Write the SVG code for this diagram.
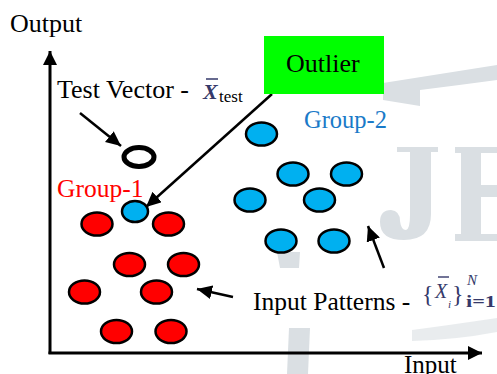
<svg xmlns="http://www.w3.org/2000/svg" width="497" height="374" viewBox="0 0 497 374">
<style>
.t{font-family:"Liberation Serif","Times New Roman",serif;fill:#000}
.red{fill:#ff0000;stroke:#000;stroke-width:2.5}
.blue{fill:#00b0f0;stroke:#000;stroke-width:2.5}
.wm{fill:#dadfe3;stroke:none}
.con{stroke:#000;stroke-width:2.5;fill:none;marker-end:url(#ah)}
.axis{stroke:#000;stroke-width:3;fill:none;marker-end:url(#ah2)}
.math{font-family:"Liberation Serif","Times New Roman",serif;fill:#35396a}
</style>
<defs>
<marker id="ah" markerUnits="userSpaceOnUse" markerWidth="16" markerHeight="14" refX="15" refY="7" orient="auto">
<path d="M0,0 L15,7 L0,14 Z" fill="#000"/>
</marker>
<marker id="ah2" markerUnits="userSpaceOnUse" markerWidth="15" markerHeight="15" refX="14" refY="7" orient="auto">
<path d="M0,0 L14,7 L0,14 Z" fill="#000"/>
</marker>
</defs>
<rect width="497" height="374" fill="#fff"/>
<g id="watermark">
<path class="wm" d="M383,83 Q440,74 497,65 L497,80 Q460,85 420,90 L420,106 L383,100 Z"/>
<path class="wm" d="M397,147 H438 V152 H431 V214 Q431,240 404,240 Q380,240 380,222 Q380,210 391,210 Q400,211 400,221 Q401,230 406,230 Q410,229 410,215 V152 H397 Z"/>
<path class="wm" d="M455,147 H497 V153 H481 V185 H497 V197 H481 V234 H497 V241 H455 V234 H461 V153 H455 Z"/>
<path class="wm" d="M277,252 H300 L299,268 H280 Z"/>
<path class="wm" d="M289,328 H310 L308,374 H287 Z"/>
<path class="wm" d="M412,330 Q450,325 497,318 L497,332 Q455,340 412,341 Z" opacity="0.6"/>
</g>
<g id="axes">
<line class="axis" x1="50" y1="354" x2="50" y2="51"/>
<line class="axis" x1="48.5" y1="353" x2="482" y2="353"/>
<text class="t" x="10" y="32" font-size="26">Output</text>
<text class="t" x="404" y="373" font-size="25">Input</text>
</g>
<g id="connectors">
<line class="con" x1="272" y1="94" x2="146" y2="207"/>
<line class="con" x1="80" y1="113" x2="121" y2="146"/>
<line class="con" x1="384" y1="268" x2="368" y2="226"/>
<line class="con" x1="233" y1="297" x2="197" y2="289"/>
</g>
<g id="outlier">
<rect x="264" y="36" width="120" height="58" fill="#00ff00"/>
<text class="t" x="286" y="72" font-size="26">Outlier</text>
</g>
<g id="test-vector">
<text class="t" x="57" y="98" font-size="26">Test Vector - </text>
<text class="math" x="203" y="99" font-size="22" font-style="italic" font-weight="bold">X</text>
<line x1="206" y1="79" x2="218" y2="79" stroke="#35396a" stroke-width="1.5"/>
<text class="t" x="219" y="102" font-size="17">test</text>
<ellipse cx="139" cy="157" rx="15" ry="9.5" fill="none" stroke="#000" stroke-width="5"/>
</g>
<g id="group-1">
<text x="57" y="197" font-size="25.5" font-family="Liberation Serif,Times New Roman,serif" fill="#ff0000">Group-1</text>
<ellipse class="red" cx="97" cy="224" rx="15.5" ry="11.5"/>
<ellipse class="red" cx="168.5" cy="224" rx="15.5" ry="11.5"/>
<ellipse class="red" cx="129.5" cy="264.5" rx="15.5" ry="11.5"/>
<ellipse class="red" cx="183.5" cy="264.5" rx="15.5" ry="11.5"/>
<ellipse class="red" cx="84.5" cy="292" rx="15.5" ry="11.5"/>
<ellipse class="red" cx="156.5" cy="292" rx="15.5" ry="11.5"/>
<ellipse class="red" cx="116.5" cy="331.5" rx="15.5" ry="11.5"/>
<ellipse class="red" cx="171" cy="331.5" rx="15.5" ry="11.5"/>
<ellipse class="blue" cx="135" cy="211.5" rx="13" ry="10.5"/>
</g>
<g id="group-2">
<text x="304" y="128" font-size="24.5" font-family="Liberation Serif,Times New Roman,serif" fill="#1a7ac8">Group-2</text>
<ellipse class="blue" cx="261.5" cy="134" rx="15.5" ry="11.5"/>
<ellipse class="blue" cx="293" cy="174" rx="15.5" ry="11.5"/>
<ellipse class="blue" cx="346.5" cy="174" rx="15.5" ry="11.5"/>
<ellipse class="blue" cx="250" cy="200" rx="15.5" ry="11.5"/>
<ellipse class="blue" cx="319.5" cy="200" rx="15.5" ry="11.5"/>
<ellipse class="blue" cx="281" cy="241" rx="15.5" ry="11.5"/>
<ellipse class="blue" cx="334" cy="241" rx="15.5" ry="11.5"/>
</g>
<g id="input-patterns">
<text class="t" x="253" y="310" font-size="25.5">Input Patterns - </text>
<text class="math" x="422" y="302" font-size="24">{</text>
<text class="math" x="435" y="298" font-size="20" font-style="italic">X</text>
<line x1="438" y1="277" x2="449" y2="277" stroke="#35396a" stroke-width="1.4"/>
<text class="math" x="448" y="308" font-size="11" font-style="italic">i</text>
<text class="math" x="452" y="302" font-size="24">}</text>
<text class="math" x="467" y="285" font-size="15" font-style="italic">N</text>
<text class="math" x="466" y="307" font-size="17" font-weight="bold" textLength="30" lengthAdjust="spacingAndGlyphs">i=1</text>
</g>
</svg>
